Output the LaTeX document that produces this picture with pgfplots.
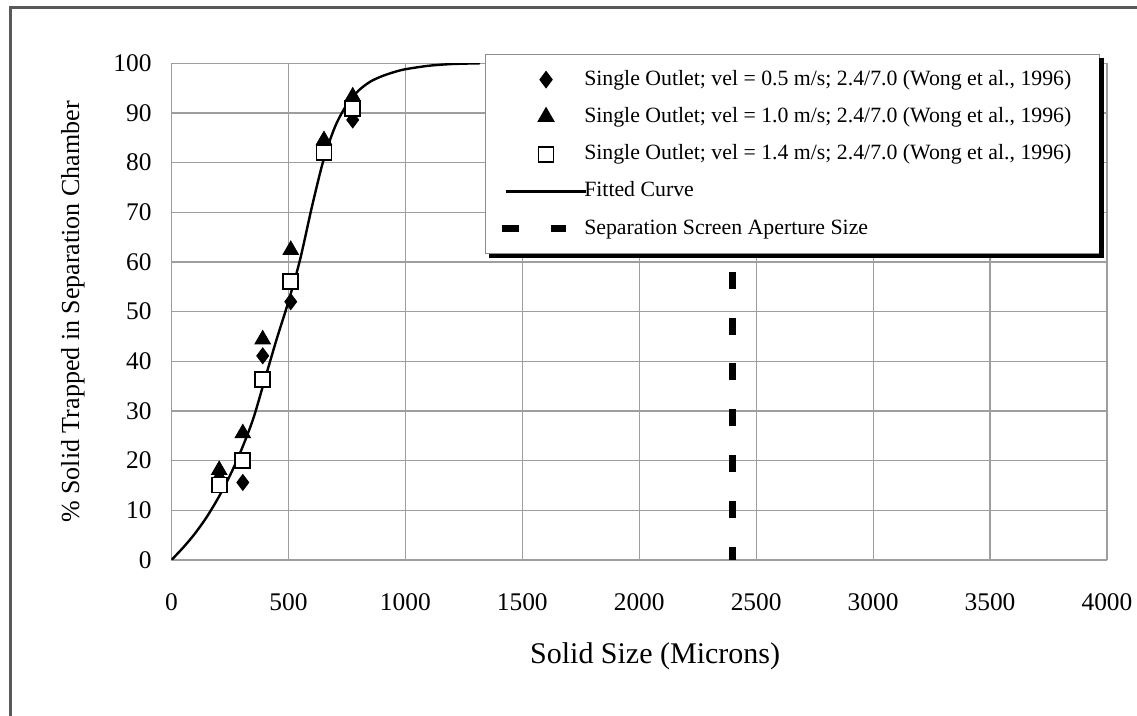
\documentclass[border=0pt]{standalone}
\usepackage{fontspec}
\setmainfont{Liberation Serif}
\usepackage{pgfplots}
\pgfplotsset{compat=1.18}
\newcommand{\legbox}{\pgfpathrectangle{\pgfpoint{-2pt}{-4pt}}{\pgfpoint{42pt}{8pt}}\pgfusepath{discard}}
\pgfplotsset{
  markleg/.style={legend image code/.code={\legbox
    \draw[mark repeat=2,mark phase=2,##1,only marks] plot coordinates {(0pt,0pt)(20pt,0pt)(40pt,0pt)};}},
  lineleg/.style={legend image code/.code={\legbox
    \draw[##1] (0pt,0pt) -- (40pt,0pt);}},
  dashleg/.style={legend image code/.code={\legbox
    \draw[black, line width=3.5pt, dash pattern=on 8.5pt off 16pt] (-2pt,0pt) -- (30pt,0pt);}},
}

\begin{document}
\begin{tikzpicture}
\begin{axis}[
  scale only axis,
  width=467.75pt, height=248.35pt,
  xmin=0, xmax=4000, ymin=0, ymax=100,
  xtick={0,500,...,4000}, ytick={0,10,...,100},
  grid=major,
  grid style={black!38, line width=0.6pt},
  axis line style={draw=none},
  major tick length=0pt,
  tick style={draw=none},
  /pgf/number format/assume math mode=true,
  /pgf/number format/1000 sep={},
  tick label style={font=\fontsize{12.7}{14}\selectfont, inner sep=0pt},
  xticklabel style={anchor=center, yshift=-21.25pt},
  yticklabel style={anchor=east, xshift=-9.75pt},
  xlabel={Solid Size (Microns)},
  ylabel={\% Solid Trapped in Separation Chamber},
  xlabel style={font=\fontsize{15}{17}\selectfont, at={(axis description cs:0.517,-0.1933)}, anchor=center},
  ylabel style={font=\fontsize{13}{15}\selectfont, at={(axis description cs:-0.1053,0.4993)}, anchor=center},
  legend style={
    name=leg,
    at={(axis description cs:0.3351,1.0187)}, anchor=north west,
    draw=black!45, line width=0.6pt, fill=white,
    inner xsep=6.5pt, inner ysep=7.25pt,
    font=\fontsize{10.9}{12}\selectfont,
    nodes={inner sep=0pt, text height=8pt, text depth=2.5pt},
    row sep=8.15pt, column sep=-1.5pt,
    cells={anchor=west},
  },
  legend cell align=left,
]
% fitted curve (drawn first, beneath the markers)
\addplot[black, line width=1.2pt, smooth, forget plot] coordinates {
  (0,0) (50,2.5) (100,5.3) (150,8.6) (200,12.5) (250,17) (300,22.3)
  (350,28.5) (400,36.5) (450,44.5) (500,52) (550,60.5) (600,71)
  (650,80.5) (700,87.3) (750,91.7) (800,94.5) (850,96.3) (900,97.4)
  (950,98.2) (1000,98.8) (1100,99.5) (1200,99.85) (1320,100)
};
% separation screen aperture size
\addplot[black, line width=3.5pt, dash pattern=on 8.5pt off 14.4pt, dash phase=1.8pt, forget plot] coordinates {
  (2400,0) (2400,100)
};
\addplot[only marks, mark=diamond*, mark size=4pt, black, mark options={fill=black}, markleg]
  coordinates {(204,16.5) (305,15.6) (390,41.1) (510,52) (652,83.5) (775,88.6)};
\addlegendentry{\makebox[251pt][l]{Single Outlet; vel = 0.5 m/s; 2.4/7.0 (Wong et al., 1996)}}
\addplot[only marks, mark=triangle*, mark size=4.5pt, black, mark options={fill=black}, markleg]
  coordinates {(204,18.1) (305,25.5) (390,44.4) (510,62.4) (652,84.5) (775,93.3)};
\addlegendentry{Single Outlet; vel = 1.0 m/s; 2.4/7.0 (Wong et al., 1996)}
\addplot[only marks, mark=square*, mark size=3.75pt, black, mark options={fill=white, draw=black, line width=0.9pt}, markleg]
  coordinates {(204,15.1) (305,20) (390,36.4) (510,56) (652,82) (775,90.9)};
\addlegendentry{Single Outlet; vel = 1.4 m/s; 2.4/7.0 (Wong et al., 1996)}
\addlegendimage{black, line width=1.2pt, lineleg}
\addlegendentry{Fitted Curve}
\addlegendimage{black, dashleg}
\addlegendentry{Separation Screen Aperture Size}

\coordinate (bl) at (rel axis cs:-0.1833,-0.3141);
\coordinate (tr) at (rel axis cs:1.0321,1.1274);
\coordinate (fbl) at (rel axis cs:-0.1726,-0.3141);
\coordinate (ftl) at (rel axis cs:-0.1726,1.1113);
\coordinate (ftr) at (rel axis cs:1.0321,1.1113);
\end{axis}
% legend shadow (thick right and bottom edges)
\draw[black, line width=2.2pt]
  ([xshift=0.8pt,yshift=-2pt]leg.north east) -- ([xshift=0.8pt,yshift=-0.8pt]leg.south east)
  -- ([xshift=2pt,yshift=-0.8pt]leg.south west);
\pgfresetboundingbox
\path[use as bounding box] (bl) rectangle (tr);
\draw[black!65, line width=1.5pt] (fbl) -- (ftl) -- (ftr);
\end{tikzpicture}
\end{document}
